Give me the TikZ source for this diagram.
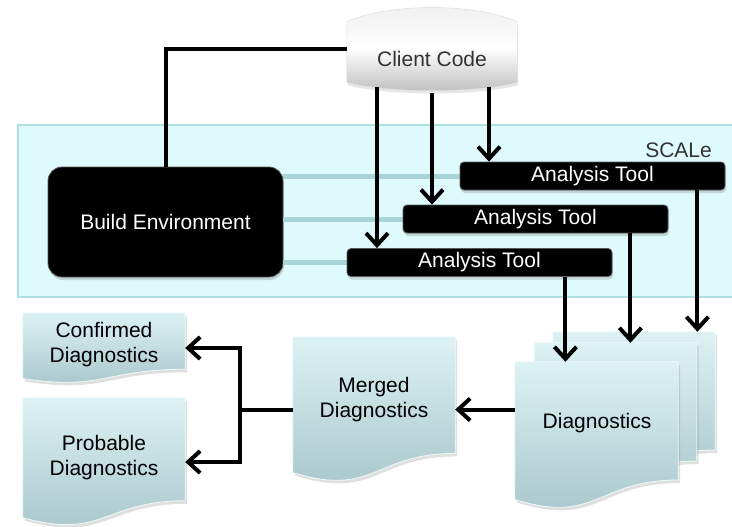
\documentclass[tikz,border=0pt]{standalone}
\usepackage{fontspec}
\setmainfont{Liberation Sans}
\usetikzlibrary{arrows.meta,calc,shadows}

\definecolor{panelfill}{HTML}{DFFAFC}
\definecolor{paneledge}{HTML}{AEDFE2}
\definecolor{doctop}{HTML}{DCF2F5}
\definecolor{docbot}{HTML}{A5C4C9}
\definecolor{feedcol}{HTML}{A8D4D7}
\definecolor{clienttop}{HTML}{EFEFEF}
\definecolor{clientbot}{HTML}{BDBDBD}
\definecolor{txtgray}{HTML}{333333}

\tikzset{
  lbl/.style={font=\fontsize{21}{25}\selectfont, align=center, inner sep=0pt},
  blackbox/.style={lbl, text=white, rounded corners=4pt, fill=black, draw=black!65, line width=0.8pt,
    drop shadow={opacity=0.3, shadow xshift=1pt, shadow yshift=-3pt}},
  toolbox/.style={blackbox, minimum width=265pt, minimum height=28pt},
  panel/.style={fill=panelfill, draw=paneledge, line width=1.5pt},
  docpaint/.style={top color=doctop, bottom color=docbot, draw=white!60!doctop, line width=0.8pt,
    drop shadow={opacity=0.25, shadow xshift=2pt, shadow yshift=-3pt}},
  clientpaint/.style={top color=clienttop, bottom color=clientbot, middle color=white, draw=black!15,
    drop shadow={opacity=0.2, shadow xshift=1pt, shadow yshift=-3pt}},
  feed/.style={line width=5pt, draw=feedcol},
  link/.style={line width=4pt, black},
  arr/.style={link, -{Straight Barb[length=12pt,width=22pt]}}
}

% document shape drawn inside the box of a node
\newcommand{\docshape}[1]{%
  \path[docpaint] (#1.north west) -- (#1.north east)
    -- ($(#1.north east)!0.802!(#1.south east)$)
    .. controls ($(#1.north)!0.802!(#1.south)$) and ($(#1.north)!1.1075!(#1.south)$)
    .. ($(#1.north west)!0.934!(#1.south west)$) -- cycle;}

\begin{document}
\begin{tikzpicture}[x=1pt, y=-1pt]
  \useasboundingbox (0,0) rectangle (732,527);

  % SCALe frame
  \node[panel, minimum width=727pt, minimum height=172pt] (scale) at (381.5,211) {};
  \node[lbl, text=txtgray, anchor=east] (scalelbl) at (712,150) {SCALe};

  % Build environment and the analysis tools
  \node[blackbox, rounded corners=14pt, minimum width=235pt, minimum height=110pt] (build) at (165.5,222) {Build Environment};
  \foreach \i/\x/\y in {1/479.5/262.5, 2/535.5/219, 3/592.5/176}
    \draw[feed] (build.east |- 0,\y) -- (\x-132.5,\y);
  \foreach \i/\x/\y in {1/479.5/262.5, 2/535.5/219, 3/592.5/176}
    \node[toolbox] (tool\i) at (\x,\y) {Analysis Tool};

  % Client code
  \node[minimum width=170pt, minimum height=82pt, inner sep=0pt] (client) at (432,49) {};
  \path[clientpaint] ([yshift=-14pt]client.north west)
    .. controls ([xshift=40pt,yshift=5pt]client.north west) and ([xshift=-40pt,yshift=5pt]client.north east)
    .. ([yshift=-14pt]client.north east) -- ([yshift=8pt]client.south east)
    .. controls ([xshift=-40pt,yshift=-3pt]client.south east) and ([xshift=40pt,yshift=-3pt]client.south west)
    .. ([yshift=8pt]client.south west) -- cycle;
  \node[lbl, text=txtgray] (clientlbl) at (432,59) {Client Code};

  % Diagnostics documents
  \node[minimum width=162pt, minimum height=147pt, inner sep=0pt] (diag3) at (634,405.5) {};
  \node[minimum width=162pt, minimum height=147pt, inner sep=0pt] (diag2) at (615.5,416.5) {};
  \node[minimum width=163pt, minimum height=147pt, inner sep=0pt] (diag1) at (596.5,435.5) {};
  \node[minimum width=162pt, minimum height=145pt, inner sep=0pt] (merged) at (374,409.5) {};
  \node[minimum width=162pt, minimum height=70pt, inner sep=0pt] (conf) at (104,348) {};
  \node[minimum width=162pt, minimum height=128pt, inner sep=0pt] (prob) at (104,462) {};
  \foreach \n in {diag3, diag2, diag1, merged, conf, prob}
    \docshape{\n};
  \node[lbl] (diaglbl) at (597,423) {Diagnostics};
  \node[lbl] (mergedlbl) at (374,400) {Merged\\Diagnostics};
  \node[lbl] (conflbl) at (104,345) {Confirmed\\Diagnostics};
  \node[lbl] (problbl) at (104,458) {Probable\\Diagnostics};

  % Connectors
  \draw[link] (client.west) -| (build.north);
  \foreach \i/\dx/\dy in {1/-55/-3, 2/0/3, 3/57/-3}
    \draw[arr] (client.south) ++(\dx,\dy) coordinate (c\i) -- (c\i |- tool\i.north);
  \foreach \i/\dx in {1/47, 2/38, 3/28}
    \draw[arr] (tool\i.south east) ++(-\dx,0) coordinate (t\i) -- (t\i |- diag\i.north);
  \draw[arr] (diag1.west |- merged.east) -- (merged.east);
  \draw[arr] (merged.west) -- ++(-53,0) coordinate (split) |- (conf.east);
  \draw[arr] (split) |- (prob.east);
\end{tikzpicture}
\end{document}
